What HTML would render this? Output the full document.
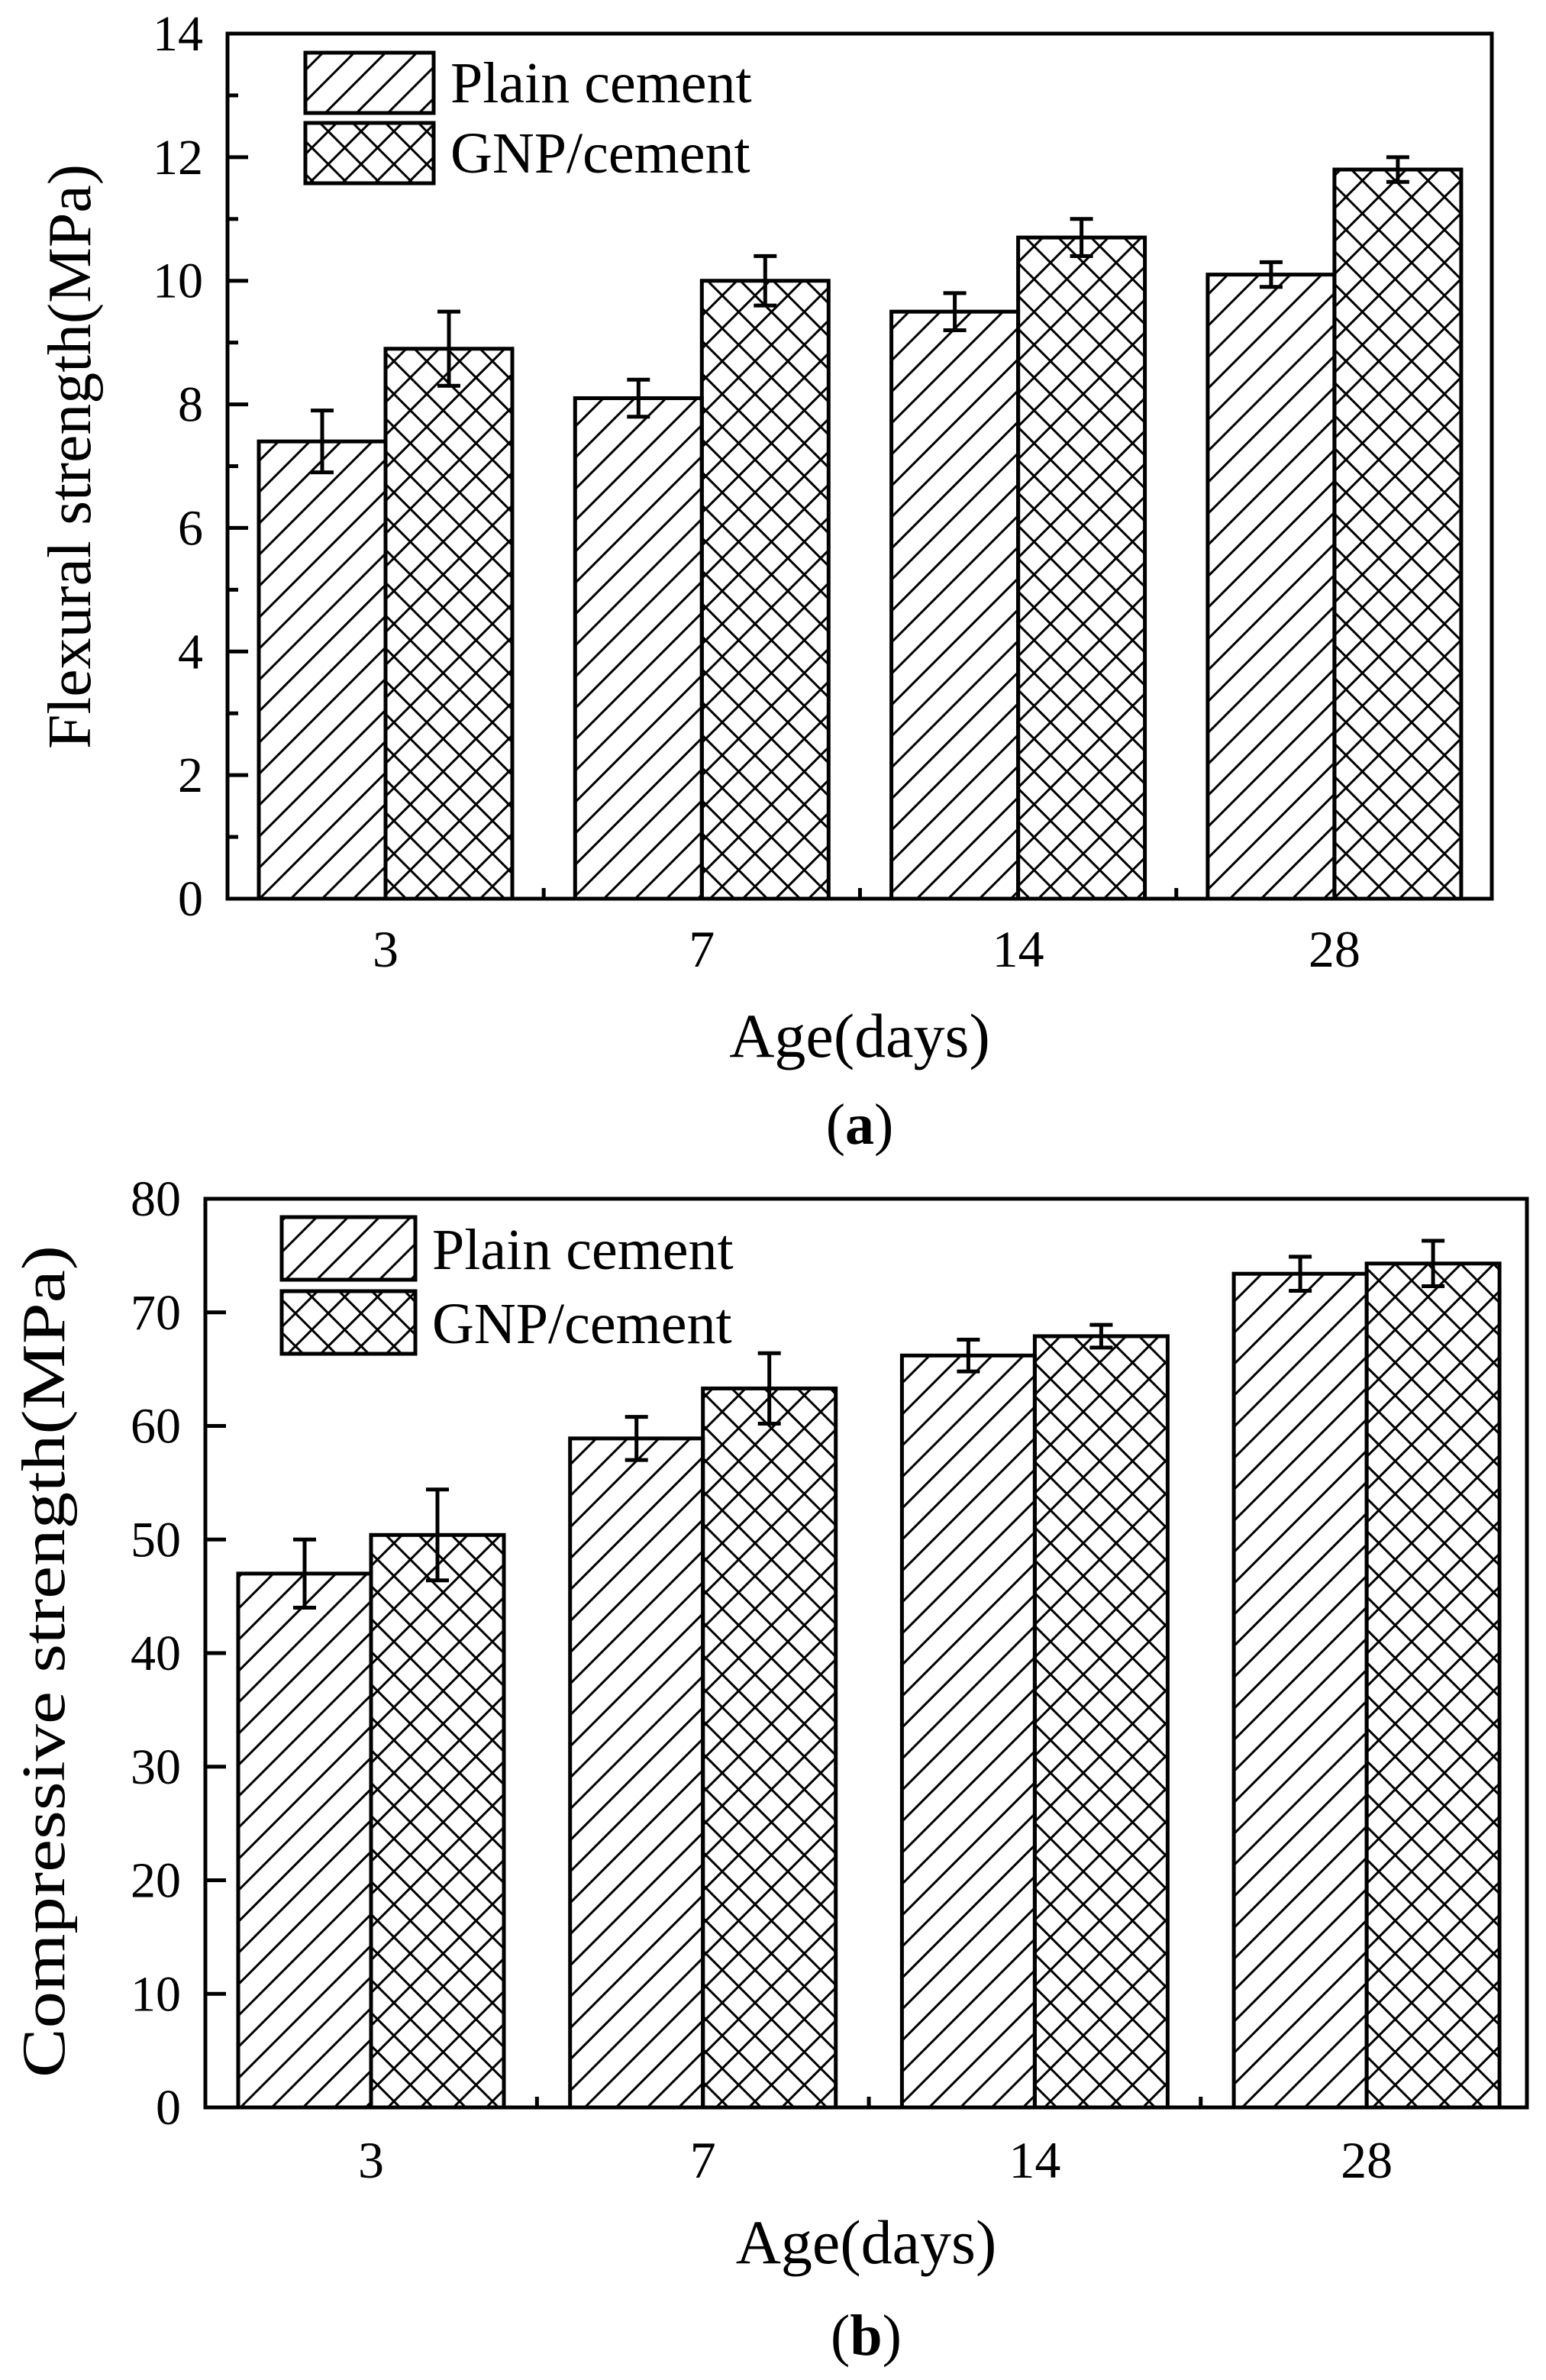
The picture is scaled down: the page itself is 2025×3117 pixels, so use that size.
<!DOCTYPE html>
<html><head><meta charset="utf-8"><style>
html,body{margin:0;padding:0;background:#fff}
svg text{font-family:"Liberation Serif",serif;fill:#000}
</style></head><body>
<svg id="chart" width="2025" height="3112" viewBox="0 0 2025 3112" xmlns="http://www.w3.org/2000/svg">
<defs>
<pattern id="diag" patternUnits="userSpaceOnUse" width="41" height="41">
<path d="M-10,51 L51,-10 M-10,10 L10,-10 M31,51 L51,31" stroke="#000" stroke-width="3"/>
</pattern>
<pattern id="cross" patternUnits="userSpaceOnUse" width="43" height="43">
<path d="M-10,53 L53,-10 M-10,10 L10,-10 M33,53 L53,33 M-10,-10 L53,53 M-10,33 L10,53 M33,-10 L53,10" stroke="#000" stroke-width="3"/>
</pattern>
</defs>
<g id="panelA"></g>
<g id="panelB"></g>
</svg>
<script>
const categories = ["3","7","14","28"];
const flexPlain = [7.4, 8.1, 9.5, 10.1];
const flexPlainErr = [0.5, 0.3, 0.3, 0.2];
const flexGnp = [8.9, 10.0, 10.7, 11.8];
const flexGnpErr = [0.6, 0.4, 0.3, 0.2];
const flexTicks = [0,2,4,6,8,10,12,14];
const compPlain = [47.0, 58.9, 66.2, 73.4];
const compPlainErr = [3.0, 1.9, 1.4, 1.5];
const compGnp = [50.4, 63.3, 67.9, 74.3];
const compGnpErr = [4.0, 3.1, 1.0, 2.0];
const compTicks = [0,10,20,30,40,50,60,70,80];
const NS = "http://www.w3.org/2000/svg";
function mk(parent, tag, attrs){const e=document.createElementNS(NS,tag);for(const k in attrs)e.setAttribute(k,attrs[k]);parent.appendChild(e);return e;}

function panel(g, cfg){
  const yS = v => cfg.bottom - v / cfg.ymax * (cfg.bottom - cfg.top);
  const xC = i => cfg.c0 + cfg.step * i;
  categories.forEach((c,i)=>{
    [[cfg.plain,cfg.plainErr,'url(#diag)',-1,'plain'],[cfg.gnp,cfg.gnpErr,'url(#cross)',0,'gnp']].forEach(s=>{
      const v=s[0][i], x=xC(i)+s[3]*cfg.bw, y=yS(v);
      const r=mk(g,'rect',{x:x,y:y,width:cfg.bw,height:cfg.bottom-y,fill:s[2],stroke:'#000','stroke-width':5});
      
      
      const cx=x+cfg.bw/2, e=s[1][i];
      const eb=mk(g,'path',{d:`M${cx},${yS(v+e)}V${yS(v-e)}M${cx-15},${yS(v+e)}h30M${cx-15},${yS(v-e)}h30`,stroke:'#000','stroke-width':5,fill:'none'});
      
      
    });
    const t=mk(g,'text',{x:xC(i),y:cfg.xlabY,'font-size':68,'text-anchor':'middle'});
    t.textContent=c;
    
    
    if(i<categories.length-1){
      const xm=(xC(i)+xC(i+1))/2;
      const tk=mk(g,'line',{x1:xm,x2:xm,y1:cfg.bottom,y2:cfg.bottom-14,stroke:'#000','stroke-width':5});
      
      
    }
  });
  const fr=mk(g,'rect',{x:cfg.left,y:cfg.top,width:cfg.right-cfg.left,height:cfg.bottom-cfg.top,fill:'none',stroke:'#000','stroke-width':5});
  
  
  cfg.ticks.forEach((v,k)=>{
    const y=yS(v);
    const tk=mk(g,'line',{x1:cfg.left,x2:cfg.left+27,y1:y,y2:y,stroke:'#000','stroke-width':5});
    
    
    if(cfg.minor && k<cfg.ticks.length-1){
      const ym=yS((v+cfg.ticks[k+1])/2);
      const mt=mk(g,'line',{x1:cfg.left,x2:cfg.left+14,y1:ym,y2:ym,stroke:'#000','stroke-width':5});
      
      
    }
    const t=mk(g,'text',{x:cfg.left-32,y:y+22,'font-size':66,'text-anchor':'end'});
    t.textContent=v;
    
    
  });
  const yt=mk(g,'text',{x:0,y:0,'font-size':80,'text-anchor':'middle',transform:`translate(${cfg.ytX},${cfg.ytY}) rotate(-90)`,textLength:cfg.ytLen,lengthAdjust:'spacingAndGlyphs'});
  yt.textContent=cfg.ytitle;
  
  
  const xt=mk(g,'text',{x:(cfg.left+cfg.right)/2,y:cfg.xtY,'font-size':82,'text-anchor':'middle'});
  xt.textContent='Age(days)';
  
  
  const pl=mk(g,'text',{x:(cfg.left+cfg.right)/2,y:cfg.plY,'font-size':76,'text-anchor':'middle'});
  pl.innerHTML='(<tspan font-weight="bold">'+cfg.letter+'</tspan>)';
  
  
  [['url(#diag)','Plain cement',cfg.lg[0]],['url(#cross)','GNP/cement',cfg.lg[1]]].forEach(L=>{
    const r=mk(g,'rect',{x:cfg.lgX,y:L[2],width:cfg.lgW,height:cfg.lgH,fill:L[0],stroke:'#000','stroke-width':5});
    
    
    const t=mk(g,'text',{x:cfg.lgX+cfg.lgW+22,y:L[2]+cfg.lgH-14,'font-size':76});
    t.textContent=L[1];
    
    
  });
}
panel(document.getElementById('panelA'),{left:298,right:1954,top:44,bottom:1177,ymax:14,c0:505,step:414.3,bw:166,
  plain:flexPlain,plainErr:flexPlainErr,gnp:flexGnp,gnpErr:flexGnpErr,ticks:flexTicks,minor:true,
  xlabY:1266,xtY:1384,plY:1498,ytX:118,ytY:598,ytLen:766,ytitle:'Flexural strength(MPa)',letter:'a',
  lgX:400,lgW:168,lgH:79,lg:[69,161]});
panel(document.getElementById('panelB'),{left:269,right:2000,top:1570,bottom:2760,ymax:80,c0:486,step:434.7,bw:174,
  plain:compPlain,plainErr:compPlainErr,gnp:compGnp,gnpErr:compGnpErr,ticks:compTicks,minor:false,
  xlabY:2852,xtY:2964,plY:3084,ytX:84,ytY:2176,ytLen:1090,ytitle:'Compressive strength(MPa)',letter:'b',
  lgX:369,lgW:175,lgH:82,lg:[1594,1691]});
</script>
</body></html>
